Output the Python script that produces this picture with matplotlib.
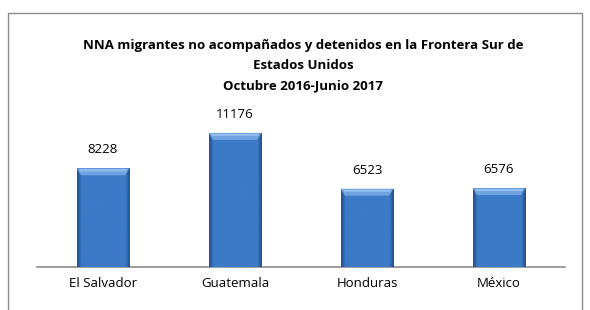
import numpy as np
import matplotlib
matplotlib.use("Agg")
import matplotlib.pyplot as plt
from matplotlib.patches import Rectangle, Polygon

paises = ["El Salvador", "Guatemala", "Honduras", "México"]
detenidos = [8228, 11176, 6523, 6576]
titulo = ("NNA migrantes no acompañados y detenidos en la Frontera Sur de\n"
          "Estados Unidos\nOctubre 2016-Junio 2017")

plt.rcParams['font.family'] = ['Open Sans', 'DejaVu Sans']

fig = plt.figure(figsize=(5.9, 3.1), dpi=100)
ax = fig.add_axes([37 / 590, (310 - 267) / 310, 528 / 590, 168 / 310])

x = np.arange(len(paises))
bars = ax.bar(x, detenidos, width=0.4, color='#3b78c6', zorder=2)

# bevelled look: dark side edges, light top
n = 40
cols = np.ones(n)
cols[:3] = [0.55, 0.7, 0.85]
cols[-3:] = [0.85, 0.7, 0.55]
grad = cols[np.newaxis, :]
cmap = matplotlib.colors.LinearSegmentedColormap.from_list(
    "b", ["#1f4a85", "#3c79c6"])
px = 14000 / 168  # data units per pixel
for b in bars:
    x0, w, h = b.get_x(), b.get_width(), b.get_height()
    im = ax.imshow(grad, extent=[x0, x0 + w, 0, h], aspect='auto',
                   cmap=cmap, vmin=0.45, vmax=1.0, zorder=3,
                   interpolation='bilinear')
    im.set_clip_path(b)
    d = w * 0.08
    t = 7 * px
    ax.add_patch(Polygon([(x0, h), (x0 + w, h), (x0 + w - d, h - t),
                          (x0 + d, h - t)], closed=True,
                         facecolor='#6ea2e0', lw=0, zorder=4))
    ax.add_patch(Polygon([(x0 + d * 0.5, h - 1 * px), (x0 + w - d * 0.5, h - 1 * px),
                          (x0 + w - d * 0.9, h - 3 * px), (x0 + d * 0.9, h - 3 * px)],
                         closed=True, facecolor='#96c0ef', lw=0, zorder=5))
    ax.text(x0 + w / 2, h + 1000, str(int(h)), ha='center', va='bottom',
            fontsize=9.5)

ax.set_xlim(-0.5, len(paises) - 0.5)
ax.set_ylim(0, 14000)
ax.set_xticks(x)
ax.set_xticklabels(paises, fontsize=9.5)
ax.tick_params(axis='x', length=0, pad=7)
ax.set_yticks([])
for s in ['top', 'right', 'left']:
    ax.spines[s].set_visible(False)
ax.spines['bottom'].set_color('#8c8c8c')
ax.spines['bottom'].set_linewidth(1.2)

fig.text(303 / 590, 1 - 39 / 310, titulo, ha='center', va='top',
         fontsize=9.5, fontweight='bold', linespacing=1.7)

# chart border
fig.add_artist(Rectangle((8 / 590, -0.1), (582 - 8) / 590, 1.1 - 13 / 310,
                         transform=fig.transFigure, fill=False,
                         edgecolor='#8c8c8c', lw=1))

fig.savefig("out.png", dpi=100)
